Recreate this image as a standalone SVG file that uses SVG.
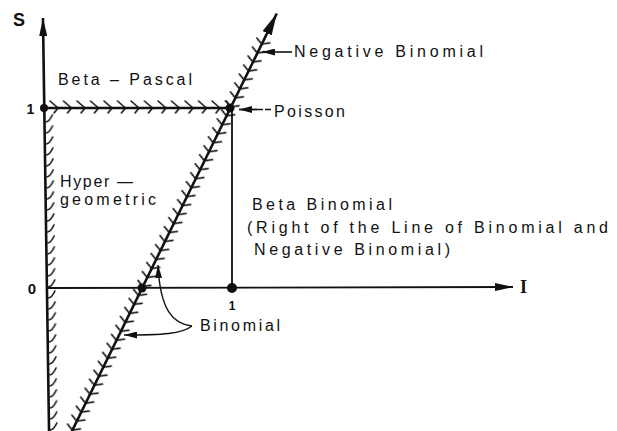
<svg xmlns="http://www.w3.org/2000/svg" width="617" height="431" viewBox="0 0 617 431">
<style>
.t{font-family:"Liberation Sans",Arial,sans-serif;font-size:16px;fill:#111}
.ln{stroke:#111;fill:none}
.h{stroke:#111;fill:none;stroke-width:1.6;stroke-linecap:round}
.b{font-family:"Liberation Sans",Arial,sans-serif;font-weight:bold;fill:#111}
</style>
<defs>
<marker id="mA" markerUnits="userSpaceOnUse" markerWidth="18" markerHeight="8" refX="18" refY="4" orient="auto" viewBox="0 0 18 8"><path d="M0,0 L18,4 L0,8 z" fill="#111"/></marker>
<marker id="mB" markerUnits="userSpaceOnUse" markerWidth="22" markerHeight="10" refX="22" refY="5" orient="auto" viewBox="0 0 22 10"><path d="M0,0 L22,5 L0,10 z" fill="#111"/></marker>
<marker id="mS" markerUnits="userSpaceOnUse" markerWidth="13" markerHeight="7" refX="13" refY="3.5" orient="auto" viewBox="0 0 13 7"><path d="M0,0 L13,3.5 L0,7 z" fill="#111"/></marker>
<pattern id="pDiag" patternUnits="userSpaceOnUse" x="0" y="-10" width="10" height="20"><path class="h" d="M4.2,2.9 L1,10 L5.6,16.7"/></pattern>
<pattern id="pVert" patternUnits="userSpaceOnUse" x="43" y="112" width="12" height="11"><path class="h" d="M1.5,10 Q5,9.5 8,3"/></pattern>
<pattern id="pHor" patternUnits="userSpaceOnUse" x="48" y="98" width="13.5" height="20"><path class="h" d="M2,3 L10,10 L6,15"/></pattern>
</defs>
<rect width="617" height="431" fill="#fff"/>

<g id="s-axis" transform="rotate(-0.84 43 20)">
<rect x="43" y="112" width="12" height="322" fill="url(#pVert)"/>
<path class="ln" d="M43,433 L43,18" stroke-width="2.6" marker-end="url(#mA)"/>
</g>
<g id="i-axis">
<path class="ln" d="M46,288 L513,287" stroke-width="1.8" marker-end="url(#mA)"/>
</g>
<g id="s-one-line">
<rect x="48" y="98" width="180" height="20" fill="url(#pHor)"/>
<path class="ln" d="M44,108 L232,108" stroke-width="2.4"/>
</g>
<g id="diagonal" transform="translate(72,431) rotate(-63.87)">
<rect x="-20" y="-10" width="460" height="20" fill="url(#pDiag)"/>
<path class="ln" d="M-20,0 L465,0" stroke-width="2.6" marker-end="url(#mB)"/>
</g>
<g id="t-line">
<path class="ln" d="M232,108 L232,288" stroke-width="1.8"/>
</g>
<g id="points" fill="#111">
<circle cx="44" cy="108" r="4"/>
<circle cx="230" cy="108" r="4.5"/>
<circle cx="142" cy="288" r="4.5"/>
<circle cx="232" cy="288" r="5"/>
</g>

<g id="connectors">
<path class="ln" d="M292,52 L262,52" stroke-width="1.6" marker-end="url(#mS)"/>
<path class="ln" d="M271,109.5 L256,109.5" stroke-width="1.4" stroke-dasharray="6 2"/>
<path class="ln" d="M257,109.5 L239,109.5" stroke-width="1.8" marker-end="url(#mS)"/>
<path class="ln" d="M192,326 C173,324 160,310 158,265" stroke-width="1.4" marker-end="url(#mS)"/>
<path class="ln" d="M192,326 C182,334 162,335 124,335" stroke-width="1.4" marker-end="url(#mS)"/>
</g>

<g id="lbl-S"><text class="b" x="13" y="26" font-size="18">S</text></g>
<g id="lbl-one-s"><text class="b" x="30.5" y="114" text-anchor="middle" font-size="14">1</text></g>
<g id="lbl-zero"><text class="b" x="32" y="294" text-anchor="middle" font-size="15">0</text></g>
<g id="lbl-one-i"><text class="b" x="232" y="310" text-anchor="middle" font-size="12">1</text></g>
<g id="lbl-I"><text x="520" y="293" font-family="'Liberation Serif','Times New Roman',serif" font-weight="bold" font-size="18" fill="#111">I</text></g>

<g id="beta-pascal"><text class="t" x="58" y="85" textLength="134" lengthAdjust="spacing">Beta – Pascal</text></g>
<g id="hypergeometric">
<text class="t" x="60" y="187" font-size="15" textLength="73" lengthAdjust="spacing">Hyper —</text>
<text class="t" x="60" y="205" font-size="15" textLength="96" lengthAdjust="spacing">geometric</text>
</g>
<g id="negative-binomial"><text class="t" x="294" y="57" textLength="189" lengthAdjust="spacing">Negative Binomial</text></g>
<g id="poisson"><text class="t" x="274" y="117" textLength="71" lengthAdjust="spacing">Poisson</text></g>
<g id="beta-binomial">
<text class="t" x="252" y="210" textLength="140" lengthAdjust="spacing">Beta Binomial</text>
<text class="t" x="247" y="233" textLength="361" lengthAdjust="spacing">(Right of the Line of Binomial and</text>
<text class="t" x="254" y="255" textLength="196" lengthAdjust="spacing">Negative Binomial)</text>
</g>
<g id="binomial"><text class="t" x="200" y="331" textLength="80" lengthAdjust="spacing">Binomial</text></g>
</svg>
